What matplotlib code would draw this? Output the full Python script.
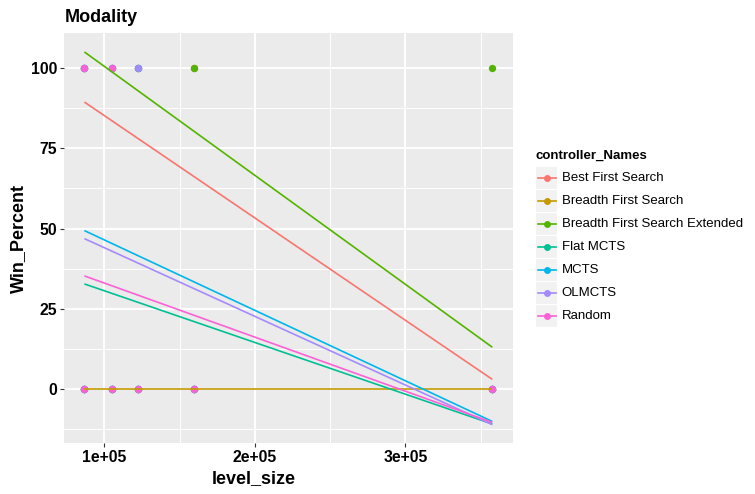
import matplotlib
matplotlib.use("Agg")
import matplotlib.pyplot as plt
from matplotlib.patches import Rectangle
from matplotlib.lines import Line2D

plt.rcParams['font.family'] = ['Liberation Sans', 'DejaVu Sans']

controllers = ["Best First Search", "Breadth First Search", "Breadth First Search Extended",
               "Flat MCTS", "MCTS", "OLMCTS", "Random"]
colors = ["#F8766D", "#C49A00", "#53B400", "#00C094", "#00B6EB", "#A58AFF", "#FB61D7"]
level_sizes = [86800, 104900, 122300, 159600, 357800]
# indices of level_sizes where each controller has a win (100) / a loss (0)
win_levels = [[0, 1, 2, 3], [], [0, 1, 2, 3, 4], [0], [0, 1, 2], [0, 1, 2], [0, 1]]
loss_levels = [[0, 1, 2, 3, 4]] * 7
# linear fit value at smallest and largest level size
fit_start = [89.4, 0.0, 105.0, 32.8, 49.4, 46.9, 35.3]
fit_end = [3.1, 0.0, 13.1, -10.8, -10.0, -11.0, -10.3]

x_ticks = [1e5, 2e5, 3e5]
x_tick_labels = ["1e+05", "2e+05", "3e+05"]
y_ticks = [0, 25, 50, 75, 100]

W, H = 755, 494
fig = plt.figure(figsize=(W / 100, H / 100), dpi=100)
ax = fig.add_axes([64 / W, 1 - 443.3 / H, (512.7 - 64) / W, (443.3 - 33.3) / H])
ax.set_facecolor('#EBEBEB')
for s in ax.spines.values():
    s.set_visible(False)

xmin, xmax = min(level_sizes), max(level_sizes)
ex = (xmax - xmin) * 0.05
ax.set_xlim(xmin - ex, xmax + ex)
allv = fit_start + fit_end + [0, 100]
ymin, ymax = min(allv), max(allv)
ey = (ymax - ymin) * 0.05
ax.set_ylim(ymin - ey, ymax + ey)

ax.set_xticks(x_ticks)
ax.set_xticklabels(x_tick_labels)
ax.set_xticks([1.5e5, 2.5e5, 3.5e5], minor=True)
ax.set_yticks(y_ticks)
ax.set_yticks([-12.5, 12.5, 37.5, 62.5, 87.5], minor=True)
ax.grid(which='major', color='white', lw=1.4)
ax.grid(which='minor', color='white', lw=0.7)
ax.set_axisbelow(True)
ax.tick_params(which='minor', length=0)
ax.tick_params(which='major', length=3, width=0.8, color='#333333',
               labelsize=11.3, pad=2, labelcolor='black')
for lab in ax.get_xticklabels() + ax.get_yticklabels():
    lab.set_fontweight('bold')

for i, c in enumerate(controllers):
    xs = [level_sizes[k] for k in loss_levels[i]] + [level_sizes[k] for k in win_levels[i]]
    ys = [0] * len(loss_levels[i]) + [100] * len(win_levels[i])
    ax.scatter(xs, ys, s=28, color=colors[i], zorder=2, linewidths=0)
for i, c in enumerate(controllers):
    ax.plot([xmin, xmax], [fit_start[i], fit_end[i]], color=colors[i], lw=1.2, zorder=3,
            solid_capstyle='butt')

def fx(px):
    return px / W

def fy(py):
    return 1 - py / H

fig.text(fx(65), fy(21.7), "Modality", fontsize=13, fontweight='bold', ha='left', va='baseline')
fig.text(fx(253.7), fy(483.3), "level_size", fontsize=13, fontweight='bold', ha='center', va='baseline')
fig.text(fx(19), fy(238.3), "Win_Percent", fontsize=13, fontweight='bold', ha='center', va='center',
         rotation=90)

# legend
fig.text(fx(535.7), fy(155.7), "controller_Names", fontsize=9.5, fontweight='bold', ha='left', va='center')
for i, c in enumerate(controllers):
    cy = 177.7 + 23 * i
    fig.add_artist(Rectangle((fx(535.7), fy(cy + 11)), 21.6 / W, 22 / H,
                             transform=fig.transFigure, facecolor='#F2F2F2', edgecolor='none'))
    fig.add_artist(Line2D([fx(537.5), fx(555.5)], [fy(cy), fy(cy)], transform=fig.transFigure,
                          color=colors[i], lw=1.2))
    fig.add_artist(Line2D([fx(546.5)], [fy(cy)], transform=fig.transFigure, marker='o',
                          markersize=5, color=colors[i], markeredgewidth=0))
    fig.text(fx(561.7), fy(cy), c, fontsize=9.5, ha='left', va='center')

fig.savefig("out.png", dpi=100)
